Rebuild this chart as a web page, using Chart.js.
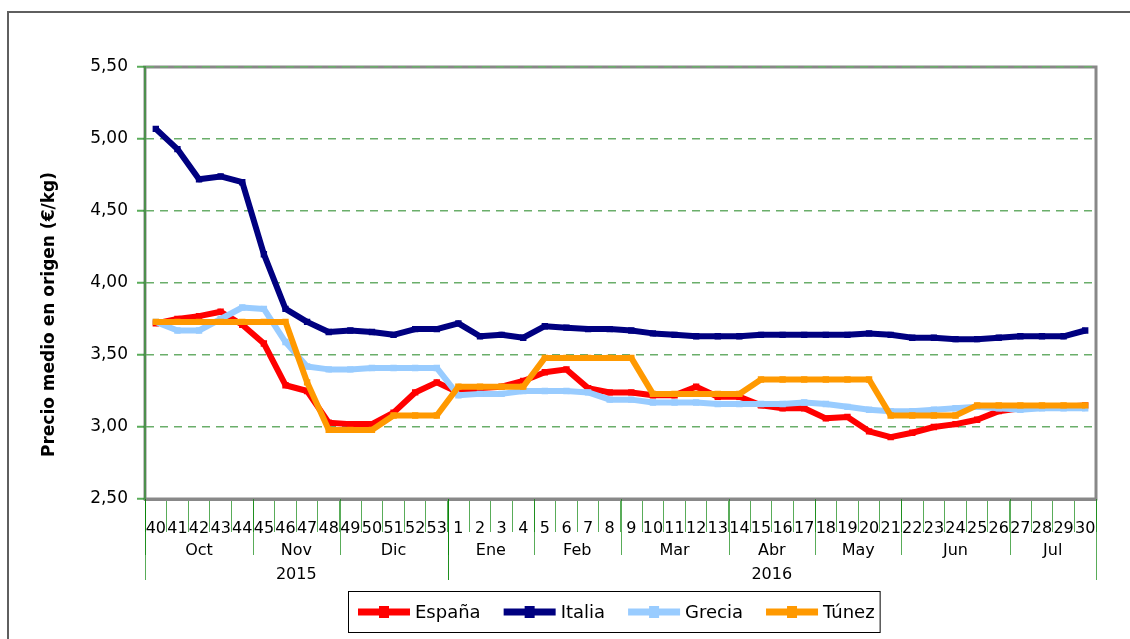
<!DOCTYPE html>
<html>
<head>
<meta charset="utf-8">
<script src="https://cdn.jsdelivr.net/npm/chart.js@4.4.0/dist/chart.umd.min.js"></script>
<style>
  html, body { margin: 0; padding: 0; background: #fff; }
  #wrap { width: 1130px; height: 639px; }
</style>
</head>
<body>
<div id="wrap"><canvas id="chart" width="1130" height="639"></canvas></div>
<script>
// weeks 40-53 of 2015, then 1-30 of 2016
const weeks = ['40','41','42','43','44','45','46','47','48','49','50','51','52','53',
  '1','2','3','4','5','6','7','8','9','10','11','12','13','14','15','16','17','18','19','20',
  '21','22','23','24','25','26','27','28','29','30'];

const months = ['Oct','Nov','Dic','Ene','Feb','Mar','Abr','May','Jun','Jul'];
const monthSpans = [5, 4, 5, 4, 4, 5, 4, 4, 5, 4];
const years = ['2015', '2016'];
const yearSpans = [14, 30];

const espana = [3.72,3.75,3.77,3.80,3.71,3.58,3.29,3.25,3.03,3.02,3.02,3.10,3.24,3.31,
  3.24,3.27,3.28,3.32,3.38,3.40,3.27,3.24,3.24,3.22,3.22,3.28,3.21,3.21,3.15,3.13,3.13,
  3.06,3.07,2.97,2.93,2.96,3.00,3.02,3.05,3.11,3.13,3.14,3.14,3.15];
const italia = [5.07,4.93,4.72,4.74,4.70,4.20,3.82,3.73,3.66,3.67,3.66,3.64,3.68,3.68,
  3.72,3.63,3.64,3.62,3.70,3.69,3.68,3.68,3.67,3.65,3.64,3.63,3.63,3.63,3.64,3.64,3.64,
  3.64,3.64,3.65,3.64,3.62,3.62,3.61,3.61,3.62,3.63,3.63,3.63,3.67];
const grecia = [3.73,3.67,3.67,3.75,3.83,3.82,3.59,3.42,3.40,3.40,3.41,3.41,3.41,3.41,
  3.22,3.23,3.23,3.25,3.25,3.25,3.24,3.19,3.19,3.17,3.17,3.17,3.16,3.16,3.16,3.16,3.17,
  3.16,3.14,3.12,3.11,3.11,3.12,3.13,3.14,3.13,3.12,3.13,3.13,3.13];
const tunez = [3.73,3.73,3.73,3.73,3.73,3.73,3.73,3.31,2.98,2.98,2.98,3.08,3.08,3.08,
  3.28,3.28,3.28,3.28,3.48,3.48,3.48,3.48,3.48,3.23,3.23,3.23,3.23,3.23,3.33,3.33,3.33,
  3.33,3.33,3.33,3.08,3.08,3.08,3.08,3.15,3.15,3.15,3.15,3.15,3.15];

const yTitle = 'Precio medio en origen (€/kg)';
const FONT = '"DejaVu Sans", sans-serif';
const GREEN = 'rgba(0,128,0,0.65)';

function series(label, data, color, order) {
  return {
    label, data, order,
    borderColor: color, backgroundColor: color,
    borderWidth: 6, tension: 0, borderJoinStyle: 'round',
    pointStyle: 'rect', pointRadius: 4.5, pointBorderWidth: 0,
    pointBackgroundColor: color, pointHoverRadius: 4.5
  };
}

// frame, plot box, bottom axis groups, y title and legend
const decor = {
  id: 'decor',
  beforeDraw(chart) {
    const { ctx, chartArea: a } = chart;
    ctx.save();
    ctx.strokeStyle = '#5f5f5f';
    ctx.lineWidth = 2;
    ctx.strokeRect(8, 12, 1140, 650);
    ctx.strokeStyle = '#888';
    ctx.lineWidth = 3;
    ctx.strokeRect(a.left, a.top, a.right - a.left, a.bottom - a.top);
    ctx.restore();
  },
  afterDraw(chart) {
    const { ctx, chartArea: a } = chart;
    const x = chart.scales.x;
    ctx.save();

    // month and year groups under the week labels
    ctx.strokeStyle = GREEN;
    ctx.lineWidth = 1;
    ctx.fillStyle = '#000';
    ctx.font = '16px ' + FONT;
    ctx.textAlign = 'center';
    ctx.textBaseline = 'middle';
    let start = 0;
    months.forEach((m, i) => {
      const x0 = x.getPixelForValue(start - 0.5);
      const x1 = x.getPixelForValue(start + monthSpans[i] - 0.5);
      ctx.beginPath();
      ctx.moveTo(Math.round(x0) + 0.5, a.bottom);
      ctx.lineTo(Math.round(x0) + 0.5, a.bottom + 56);
      ctx.stroke();
      ctx.fillText(m, (x0 + x1) / 2, a.bottom + 52);
      start += monthSpans[i];
    });
    start = 0;
    years.forEach((yr, i) => {
      const x0 = x.getPixelForValue(start - 0.5);
      const x1 = x.getPixelForValue(start + yearSpans[i] - 0.5);
      ctx.beginPath();
      ctx.moveTo(Math.round(x0) + 0.5, a.bottom);
      ctx.lineTo(Math.round(x0) + 0.5, a.bottom + 81);
      ctx.moveTo(Math.round(x1) + 0.5, a.bottom);
      ctx.lineTo(Math.round(x1) + 0.5, a.bottom + 81);
      ctx.stroke();
      ctx.fillText(yr, (x0 + x1) / 2, a.bottom + 76);
      start += yearSpans[i];
    });

    // y axis title
    ctx.save();
    ctx.translate(50, 457);
    ctx.rotate(-Math.PI / 2);
    ctx.font = 'bold 17px ' + FONT;
    ctx.textAlign = 'left';
    ctx.fillText(yTitle, 0, 0);
    ctx.restore();

    // legend
    ctx.font = '18px ' + FONT;
    ctx.textAlign = 'left';
    const sets = chart.data.datasets;
    const sample = 52, gap = 5, spacing = 23, pad = 10;
    let total = pad * 2 - 5;
    sets.forEach((d, i) => {
      total += sample + gap + ctx.measureText(d.label).width + (i < sets.length - 1 ? spacing : 0);
    });
    const boxTop = 591, boxH = 41;
    let lx = Math.round(880 - total);
    ctx.strokeStyle = '#000';
    ctx.lineWidth = 1;
    ctx.strokeRect(lx + 0.5, boxTop + 0.5, total, boxH);
    const cy = boxTop + boxH / 2 + 0.5;
    lx += pad;
    sets.forEach(d => {
      ctx.fillStyle = d.borderColor;
      ctx.fillRect(lx, cy - 3.5, sample, 7);
      ctx.fillRect(lx + sample / 2 - 5, cy - 6, 10, 12);
      ctx.fillStyle = '#000';
      ctx.fillText(d.label, lx + sample + gap, cy + 1);
      lx += sample + gap + ctx.measureText(d.label).width + spacing;
    });
    ctx.restore();
  }
};

new Chart(document.getElementById('chart'), {
  type: 'line',
  data: {
    labels: weeks,
    datasets: [
      series('España', espana, '#ff0000', 4),
      series('Italia', italia, '#000080', 3),
      series('Grecia', grecia, '#99ccff', 2),
      series('Túnez', tunez, '#ff9900', 1)
    ]
  },
  options: {
    responsive: false,
    animation: false,
    events: [],
    layout: { padding: { left: 0, top: 67, right: 34, bottom: 52 } },
    plugins: { legend: { display: false }, tooltip: { enabled: false } },
    scales: {
      x: {
        offset: true,
        afterFit(scale) { scale.height = 88; },
        grid: {
          display: true, drawOnChartArea: false, offset: true,
          tickLength: 33, color: GREEN, lineWidth: 1
        },
        border: { display: true, color: '#888', width: 3 },
        ticks: {
          autoSkip: false, maxRotation: 0, minRotation: 0, padding: -13,
          color: '#000', font: { family: FONT, size: 16 }
        }
      },
      y: {
        min: 2.5, max: 5.5,
        afterFit(scale) { scale.width = 145; },
        grid: {
          color: '#6aae6a', lineWidth: 1.5, tickLength: 8,
          tickColor: GREEN, tickWidth: 2, tickBorderDash: []
        },
        border: { display: true, color: '#4d8f4d', width: 2, dash: [8, 6] },
        ticks: {
          stepSize: 0.5, padding: 9, color: '#000',
          font: { family: FONT, size: 17 },
          callback: v => v.toFixed(2).replace('.', ',')
        }
      }
    }
  },
  plugins: [decor]
});
</script>
</body>
</html>
